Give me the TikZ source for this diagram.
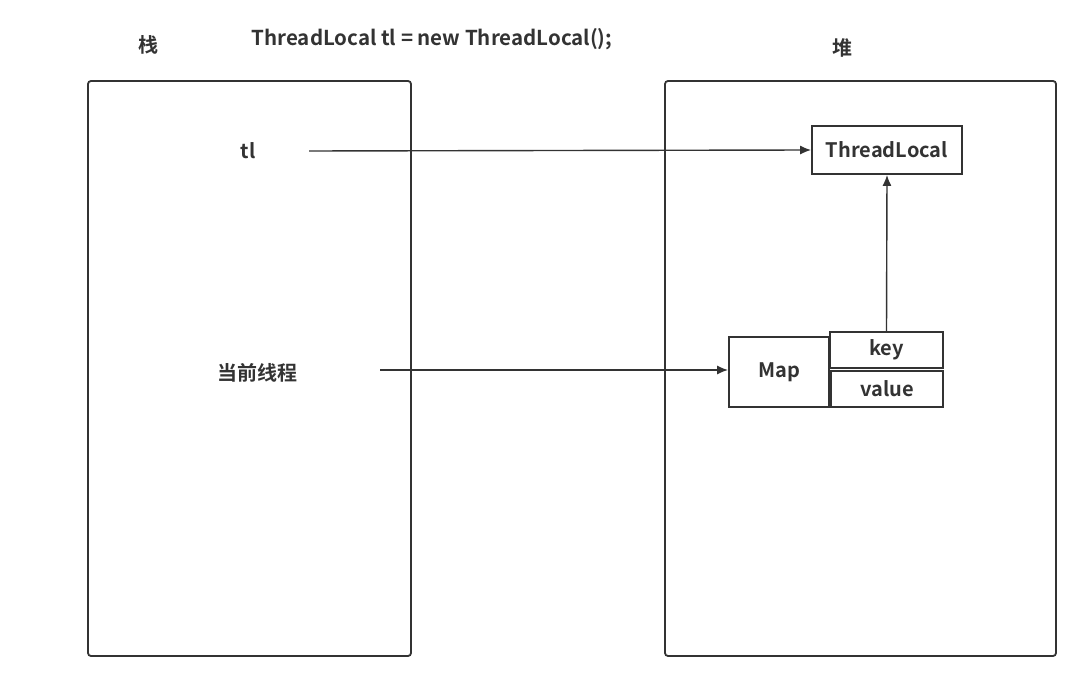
\documentclass[tikz,border=0pt]{standalone}
\usepackage{fontspec}
\setmainfont{Noto Sans CJK SC}[BoldFont={* Bold}]
\usetikzlibrary{arrows.meta}
\definecolor{ln}{HTML}{333333}
\tikzset{
  x=1pt, y=-1pt,
  lbl/.style={font=\fontsize{20}{24}\selectfont\bfseries, text=ln, inner sep=0pt},
  area/.style={draw=ln, line width=1.8pt, rounded corners=3pt},
  cell/.style={draw=ln, line width=1.8pt, fill=white},
  conn/.style={draw=ln, line width=1.4pt, -{Latex[length=11pt,width=9pt]}}
}
\begin{document}
\begin{tikzpicture}
\useasboundingbox (0,0) rectangle (1090,692);
\draw[area] (88,81) rectangle (411,656);
\draw[area] (665,81) rectangle (1056,656);
\node[lbl] (zhan) at (148,45) {栈};
\node[lbl, font=\fontsize{20.5}{24}\selectfont\bfseries] (code) at (432,39) {ThreadLocal tl = new ThreadLocal();};
\node[lbl] (dui) at (842,48) {堆};
\node[lbl] (tl) at (248,151) {tl};
\node[lbl] (cur) at (257,373) {当前线程};
\node[cell, lbl, minimum width=150pt, minimum height=48pt] (TL) at (887,150) {ThreadLocal};
\node[cell, lbl, minimum width=100pt, minimum height=70pt] (map) at (779,372) {Map};
\node[cell, lbl, minimum width=113pt, minimum height=36pt] (key) at (886.5,350) {key};
\node[cell, lbl, minimum width=112pt, minimum height=36pt] (val) at (887,389) {value};
\coordinate (tlr) at (309,151);
\coordinate (curr) at (380,370);
\draw[conn] (tlr) -- (TL.west);
\draw[conn] (curr) -- (curr -| map.west);
\draw[conn] (key.north) -- (TL.south);
\end{tikzpicture}
\end{document}
